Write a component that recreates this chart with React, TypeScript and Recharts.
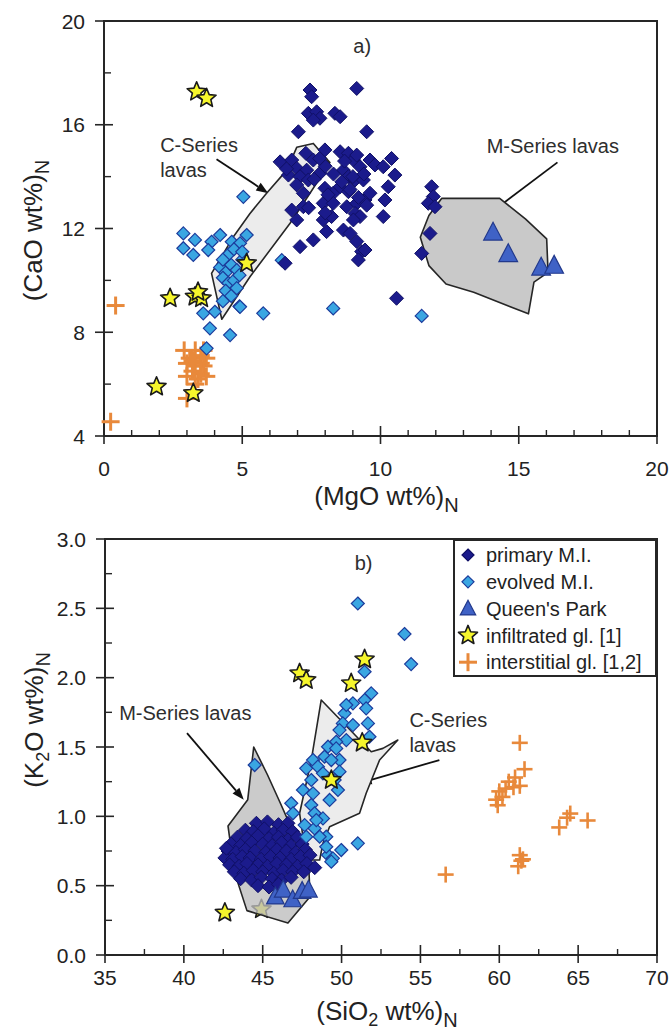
import React from 'react';
import { ScatterChart, Scatter, XAxis, YAxis, ReferenceArea, ReferenceLine, ReferenceDot, Legend } from 'recharts';

type Pt = [number, number];

const FONT = '"Liberation Sans", Arial, Helvetica, sans-serif';
const INK = '#262626';

// ---------- panel a) : (MgO)N vs (CaO)N ----------
const mgoTicks = [0, 1, 2, 3, 4, 5, 6, 7, 8, 9, 10, 11, 12, 13, 14, 15, 16, 17, 18, 19, 20];
const caoTicks = [4, 6, 8, 10, 12, 14, 16, 18, 20];

const primaryA: Pt[] = [
  [7.45, 17.34], [9.14, 17.4], [7.51, 17.08], [7.39, 16.44], [7.69, 16.5], [7.81, 16.25], [8.35, 16.44],
  [8.54, 16.31], [7.57, 16.18], [7.03, 15.73], [9.5, 15.73], [6.37, 14.57], [6.79, 14.64], [6.97, 14.32],
  [7.33, 14.25], [7.57, 14.64], [6.67, 14.06], [7.09, 14.0], [7.39, 13.87], [6.97, 13.68], [7.21, 13.36],
  [7.81, 14.13], [7.99, 15.03], [8.54, 14.96], [8.84, 14.9], [9.02, 14.64], [9.14, 14.83], [9.26, 14.38],
  [8.66, 14.25], [8.84, 14.0], [9.08, 13.87], [9.38, 13.87], [9.62, 14.64], [9.8, 14.45], [10.1, 14.38],
  [10.4, 14.7], [10.52, 14.06], [10.28, 13.61], [10.16, 13.1], [10.1, 12.46], [7.99, 13.55], [8.29, 13.36],
  [8.54, 13.61], [8.84, 13.42], [7.93, 12.97], [8.29, 12.97], [8.78, 12.84], [9.14, 12.97], [9.44, 13.1],
  [9.62, 13.36], [9.08, 12.58], [9.26, 12.46], [9.02, 12.33], [6.79, 12.71], [6.97, 12.33], [7.21, 12.84],
  [7.93, 12.33], [8.23, 12.46], [8.66, 11.94], [8.9, 11.81], [7.57, 11.56], [7.09, 11.3], [8.05, 11.88],
  [9.14, 11.5], [9.32, 11.11], [9.2, 10.79], [9.44, 11.17], [10.58, 9.31], [11.85, 13.61], [11.91, 13.23],
  [11.73, 12.97], [11.97, 12.84], [11.79, 11.81], [11.49, 11.04], [6.55, 10.66], [8.0, 14.4], [8.3, 14.1],
  [8.6, 13.8], [8.9, 13.5], [9.2, 13.2], [9.5, 12.9], [7.6, 13.9], [8.1, 13.3], [9.0, 14.0], [8.7, 14.6],
  [7.8, 14.7], [7.3, 14.9], [6.6, 14.3], [9.4, 14.1], [8.0, 12.6], [7.4, 12.8],
];
const evolvedA: Pt[] = [
  [5.04, 13.22], [2.87, 11.81], [3.29, 11.56], [2.87, 11.24], [3.23, 10.98], [3.89, 11.49], [4.2, 11.75],
  [3.77, 11.17], [4.62, 11.49], [4.92, 11.43], [5.16, 11.75], [4.2, 10.5], [4.4, 10.3], [4.6, 10.6],
  [4.8, 10.4], [4.3, 10.1], [4.5, 9.9], [4.7, 10.0], [4.9, 10.2], [4.4, 9.6], [4.6, 9.4], [4.3, 9.2],
  [4.8, 9.7], [5.0, 10.8], [4.5, 11.0], [4.7, 11.2], [5.0, 11.1], [4.3, 10.8], [4.9, 9.0], [3.59, 8.73],
  [4.01, 8.79], [4.92, 8.98], [5.76, 8.73], [8.29, 8.92], [11.49, 8.63], [3.83, 8.15], [4.56, 7.89],
  [3.71, 7.38], [6.43, 10.78],
];
const queensA: Pt[] = [[14.07, 11.85], [14.62, 11.02], [15.81, 10.5], [16.28, 10.57]];
const infiltratedA: Pt[] = [
  [3.35, 17.27], [3.71, 17.02], [5.16, 10.66], [2.39, 9.31], [3.29, 9.37], [3.53, 9.31], [3.4, 9.55],
  [1.9, 5.9], [3.23, 5.65],
];
const interstitialA: Pt[] = [
  [0.24, 4.55], [0.42, 9.03], [2.9, 7.3], [3.3, 7.3], [3.1, 7.0], [3.5, 7.1], [3.7, 7.0], [3.0, 6.8],
  [3.3, 6.7], [3.6, 6.7], [3.2, 6.5], [3.5, 6.4], [3.0, 6.3], [3.4, 6.2], [3.7, 6.3], [3.3, 6.0],
  [3.5, 6.8], [3.0, 5.45], [3.6, 7.3], [3.2, 6.9],
];
const cSeriesA: Pt[] = [
  [6.97, 15.13], [7.57, 15.28], [8.17, 14.54], [7.45, 13.36], [6.73, 12.2], [5.28, 10.14], [4.26, 8.5],
  [3.89, 10.27], [4.68, 11.68], [5.28, 12.58], [5.88, 13.36], [6.61, 14.25],
];
const mSeriesA: Pt[] = [
  [12.21, 13.16], [14.31, 13.16], [15.24, 12.37], [16.01, 11.6], [16.06, 10.31], [15.55, 9.93],
  [15.35, 8.71], [13.37, 9.54], [12.37, 9.86], [11.75, 10.57], [11.44, 11.66], [11.75, 12.5],
];

// ---------- panel b) : (SiO2)N vs (K2O)N ----------
const sio2Ticks = [35, 37.5, 40, 42.5, 45, 47.5, 50, 52.5, 55, 57.5, 60, 62.5, 65, 67.5, 70];
const k2oTicks = [0, 0.25, 0.5, 0.75, 1, 1.25, 1.5, 1.75, 2, 2.25, 2.5, 2.75, 3];

const primaryB: Pt[] = [
  [44.6, 0.95], [45.3, 0.96], [46.0, 0.94], [46.6, 0.95], [43.9, 0.9], [44.4, 0.89], [45.1, 0.91],
  [45.7, 0.88], [46.3, 0.9], [46.9, 0.89], [43.4, 0.85], [44.0, 0.84], [44.7, 0.86], [45.4, 0.84],
  [46.0, 0.85], [46.6, 0.83], [47.2, 0.85], [43.0, 0.8], [43.6, 0.79], [44.3, 0.81], [45.0, 0.8],
  [45.6, 0.79], [46.2, 0.81], [46.8, 0.79], [47.5, 0.8], [42.8, 0.75], [43.3, 0.74], [43.9, 0.76],
  [44.5, 0.75], [45.2, 0.74], [45.9, 0.76], [46.5, 0.75], [47.1, 0.74], [47.7, 0.76], [42.6, 0.7],
  [43.1, 0.69], [43.7, 0.71], [44.2, 0.7], [44.9, 0.69], [45.5, 0.71], [46.1, 0.7], [46.8, 0.69],
  [47.4, 0.71], [48.0, 0.72], [42.9, 0.65], [43.5, 0.64], [44.0, 0.66], [44.7, 0.65], [45.3, 0.64],
  [45.9, 0.66], [46.5, 0.65], [47.2, 0.64], [47.8, 0.66], [43.2, 0.6], [43.8, 0.59], [44.4, 0.61],
  [45.0, 0.6], [45.7, 0.59], [46.3, 0.61], [46.9, 0.6], [47.6, 0.6], [43.6, 0.55], [44.3, 0.54],
  [44.9, 0.56], [45.6, 0.55], [46.2, 0.54], [46.8, 0.56], [44.7, 0.5], [45.4, 0.49], [46.0, 0.51],
  [48.3, 0.63], [42.7, 0.77],
];
const evolvedB: Pt[] = [
  [51.03, 2.535], [53.99, 2.315], [54.41, 2.098], [51.46, 2.043], [51.88, 1.887], [50.19, 1.743],
  [50.72, 1.815], [50.3, 1.803], [51.46, 1.839], [51.56, 1.779], [51.67, 1.67], [50.08, 1.67],
  [50.72, 1.658], [49.87, 1.622], [50.3, 1.55], [49.66, 1.538], [51.77, 1.574], [49.14, 1.502],
  [49.66, 1.49], [49.87, 1.406], [48.92, 1.43], [49.35, 1.406], [48.19, 1.406], [47.76, 1.346],
  [48.5, 1.358], [48.82, 1.31], [49.87, 1.322], [49.56, 1.262], [48.08, 1.262], [47.55, 1.19],
  [48.19, 1.166], [49.24, 1.118], [49.77, 1.19], [46.81, 1.094], [46.92, 1.022], [48.08, 1.082],
  [48.29, 1.022], [48.82, 0.985], [47.66, 0.937], [48.29, 0.913], [49.03, 0.853], [47.76, 0.853],
  [48.61, 0.853], [49.14, 0.721], [49.45, 0.697], [49.98, 0.757], [51.03, 0.805], [44.49, 1.37],
  [48.4, 0.973], [49.03, 0.781], [49.35, 0.673],
];
const queensB: Pt[] = [[45.8, 0.42], [46.3, 0.47], [46.9, 0.4], [47.5, 0.46], [47.9, 0.47]];
const infiltratedB: Pt[] = [
  [47.34, 2.031], [47.76, 1.983], [50.61, 1.959], [51.46, 2.132], [51.31, 1.531], [49.35, 1.262], [42.6, 0.305],
];
const infiltratedUnderLavaB: Pt[] = [[44.92, 0.33]];
const interstitialB: Pt[] = [
  [61.3, 1.53], [61.6, 1.34], [61.0, 1.28], [60.6, 1.25], [60.4, 1.2], [60.0, 1.18], [59.8, 1.12],
  [59.9, 1.08], [60.9, 1.21], [61.3, 1.22], [60.2, 1.14], [64.5, 1.02], [64.3, 0.99], [63.8, 0.92],
  [65.6, 0.97], [61.3, 0.72], [61.5, 0.69], [61.2, 0.64], [61.4, 0.68], [56.6, 0.58],
];
const cSeriesB: Pt[] = [
  [48.71, 1.839], [51.88, 1.466], [52.62, 1.49], [53.57, 1.55], [52.41, 1.406], [51.56, 1.166],
  [51.14, 1.022], [49.24, 0.925], [48.82, 0.805], [48.61, 0.685], [47.76, 0.685], [47.34, 1.022], [48.08, 1.406],
];
const mSeriesB: Pt[] = [
  [44.43, 1.5], [45.3, 1.3], [46.1, 1.1], [46.8, 0.92], [47.4, 0.8], [47.9, 0.7], [48.0, 0.42],
  [46.6, 0.23], [44.0, 0.32], [43.2, 0.6], [42.8, 0.93], [44.05, 1.12],
];

const legendNames = ['primary M.I.', 'evolved M.I.', "Queen's Park", 'infiltrated gl. [1]', 'interstitial gl. [1,2]'];

const toXY = (pts: Pt[]) => pts.map(([x, y]) => ({ x, y }));

// ---------- marker shapes ----------
const PRIMARY = { fill: '#1b1b8c', stroke: '#101066' };
const EVOLVED = { fill: '#3aa6e2', stroke: '#1c3c9c' };
const QUEENS = { fill: '#3f62c6', stroke: '#22398c' };
const STAR = { fill: '#f6f62c', stroke: '#1a1a1a' };
const CROSS = '#e8893b';

const diamond = (cx: number, cy: number, r: number, c: { fill: string; stroke: string }, sw = 1.2) => (
  <polygon points={`${cx},${cy - r} ${cx + r},${cy} ${cx},${cy + r} ${cx - r},${cy}`} fill={c.fill} stroke={c.stroke} strokeWidth={sw} />
);
const triangle = (cx: number, cy: number, h: number) => (
  <polygon points={`${cx},${cy - h * 0.6} ${cx + h * 0.55},${cy + h * 0.45} ${cx - h * 0.55},${cy + h * 0.45}`} fill={QUEENS.fill} stroke={QUEENS.stroke} strokeWidth={1.2} />
);
const star = (cx: number, cy: number, R: number, fill = STAR.fill) => {
  const pts: string[] = [];
  for (let i = 0; i < 10; i++) {
    const a = (-90 + i * 36) * Math.PI / 180;
    const rad = i % 2 ? R * 0.45 : R;
    pts.push(`${cx + rad * Math.cos(a)},${cy + rad * Math.sin(a)}`);
  }
  return <polygon points={pts.join(' ')} fill={fill} stroke={STAR.stroke} strokeWidth={1.6} strokeLinejoin="round" />;
};
const cross = (cx: number, cy: number, h: number, w = 3) => (
  <g stroke={CROSS} strokeWidth={w}>
    <line x1={cx - h} y1={cy} x2={cx + h} y2={cy} />
    <line x1={cx} y1={cy - h} x2={cx} y2={cy + h} />
  </g>
);

// polygon outline drawn through the Scatter line (library-scaled points)
const lavaField = (fill: string, opacity = 1) => (p: any) => {
  const pts = (p.points || []) as { x: number; y: number }[];
  if (!pts.length) return <g />;
  const d = pts.map((q, i) => `${i ? 'L' : 'M'}${q.x},${q.y}`).join(' ') + ' Z';
  return <path d={d} fill={fill} fillOpacity={opacity} stroke={INK} strokeWidth={1.6} strokeLinejoin="round" />;
};

const arrowShape = (p: any) => {
  const { x1, y1, x2, y2 } = p;
  const ang = Math.atan2(y2 - y1, x2 - x1);
  const L = 12, W = 4.5;
  const bx = x2 - L * Math.cos(ang), by = y2 - L * Math.sin(ang);
  const nx = -Math.sin(ang), ny = Math.cos(ang);
  return (
    <g>
      <line x1={x1} y1={y1} x2={bx} y2={by} stroke="#111" strokeWidth={1.8} />
      <polygon points={`${x2},${y2} ${bx + nx * W},${by + ny * W} ${bx - nx * W},${by - ny * W}`} fill="#111" />
    </g>
  );
};

const note = (text: string, anchor: 'start' | 'middle' = 'start') => (p: any) => (
  <text x={p.cx} y={p.cy} textAnchor={anchor} fontFamily={FONT} fontSize={20} fill="#2e2e2e">{text}</text>
);

// ---------- ticks ----------
const isMult = (v: number, step: number) => Math.abs(v / step - Math.round(v / step)) < 1e-6;

const xTick = (step: number, labelDy: number, fmt: (v: number) => string) => (p: any) => {
  const { x, y, payload } = p;
  const v = payload.value;
  const major = isMult(v, step);
  return (
    <g>
      {major
        ? <line x1={x} x2={x} y1={y - 10} y2={y + 8} stroke={INK} strokeWidth={1.6} />
        : <line x1={x} x2={x} y1={y} y2={y - 6} stroke={INK} strokeWidth={1.4} />}
      {major && (
        <text x={x} y={y + labelDy} textAnchor="middle" fontFamily={FONT} fontSize={21} fill="#222">{fmt(v)}</text>
      )}
    </g>
  );
};

const yTick = (step: number, fmt: (v: number) => string) => (p: any) => {
  const { x, y, payload } = p;
  const v = payload.value;
  const major = isMult(v, step);
  return (
    <g>
      {major
        ? <line x1={x - 9} x2={x + 9} y1={y} y2={y} stroke={INK} strokeWidth={1.6} />
        : <line x1={x} x2={x + 7} y1={y} y2={y} stroke={INK} strokeWidth={1.4} />}
      {major && (
        <text x={x - 19} y={y} dy="0.36em" textAnchor="end" fontFamily={FONT} fontSize={21} fill="#222">{fmt(v)}</text>
      )}
    </g>
  );
};

const xTitle = (main: React.ReactNode, dy: number) => (p: any) => {
  const vb = p.viewBox || {};
  return (
    <text x={vb.x + vb.width / 2 + 6} y={vb.y + dy} textAnchor="middle" fontFamily={FONT} fontSize={26} fill="#222">{main}</text>
  );
};
const yTitle = (main: React.ReactNode, shift: number) => (p: any) => {
  const vb = p.viewBox || {};
  const cx = vb.x + vb.width - 62;
  const cy = vb.y + vb.height / 2 + shift;
  return (
    <text x={cx} y={cy} transform={`rotate(-90 ${cx} ${cy})`} textAnchor="middle" fontFamily={FONT} fontSize={26} fill="#222">{main}</text>
  );
};

const LegendBox = () => {
  const icons = [
    (cx: number, cy: number) => diamond(cx, cy, 6, PRIMARY),
    (cx: number, cy: number) => diamond(cx, cy, 6, EVOLVED),
    (cx: number, cy: number) => triangle(cx, cy, 14),
    (cx: number, cy: number) => star(cx, cy, 10),
    (cx: number, cy: number) => cross(cx, cy, 9),
  ];
  return (
    <svg width={204} height={138} style={{ display: 'block' }}>
      <rect x={1} y={1} width={202} height={136} fill="#fff" stroke={INK} strokeWidth={2} />
      {legendNames.map((n, i) => {
        const cy = 16 + i * 26.8;
        return (
          <g key={n}>
            {icons[i](15, cy)}
            <text x={33} y={cy} dy="0.36em" fontFamily={FONT} fontSize={20} fill="#222">{n}</text>
          </g>
        );
      })}
    </svg>
  );
};

const none = () => <g />;

const PanelA = () => (
  <ScatterChart width={672} height={515} margin={{ top: 21, right: 15, bottom: 19, left: 24 }}>
    <XAxis type="number" dataKey="x" domain={[0, 20]} ticks={mgoTicks} interval={0} tickSize={0} tickMargin={0}
      tickLine={false} axisLine={{ stroke: INK, strokeWidth: 2 }} height={60}
      tick={xTick(5, 40, (v) => String(v))}
      label={{ content: xTitle(<>(MgO wt%)<tspan dy={7} fontSize={20}>N</tspan></>, 69) }} />
    <YAxis type="number" dataKey="y" domain={[4, 20]} ticks={caoTicks} interval={0} tickSize={0} tickMargin={0}
      tickLine={false} axisLine={{ stroke: INK, strokeWidth: 2 }} width={80}
      tick={yTick(4, (v) => String(v))}
      label={{ content: yTitle(<>(CaO wt%)<tspan dy={7} fontSize={20}>N</tspan></>, 2) }} />
    <ReferenceArea x1={0} x2={20} y1={4} y2={20} fill="none" stroke={INK} strokeWidth={2} ifOverflow="visible" />
    <Scatter data={toXY(cSeriesA)} line={lavaField('#ececec')} lineType="joint" shape={none} isAnimationActive={false} legendType="none" />
    <Scatter data={toXY(mSeriesA)} line={lavaField('#c9c9c9')} lineType="joint" shape={none} isAnimationActive={false} legendType="none" />
    <Scatter data={toXY(interstitialA)} shape={(p: any) => cross(p.cx, p.cy, 9)} isAnimationActive={false} />
    <Scatter data={toXY(evolvedA)} shape={(p: any) => diamond(p.cx, p.cy, 6.5, EVOLVED)} isAnimationActive={false} />
    <Scatter data={toXY(primaryA)} shape={(p: any) => diamond(p.cx, p.cy, 7, PRIMARY, 1)} isAnimationActive={false} />
    <Scatter data={toXY(queensA)} shape={(p: any) => triangle(p.cx, p.cy, 17)} isAnimationActive={false} />
    <Scatter data={toXY(infiltratedA)} shape={(p: any) => star(p.cx, p.cy, 10)} isAnimationActive={false} />
    <ReferenceLine segment={[{ x: 4.07, y: 14.67 }, { x: 5.94, y: 13.36 }]} shape={arrowShape} />
    <ReferenceLine segment={[{ x: 16.4, y: 14.55 }, { x: 14.0, y: 12.62 }]} shape={arrowShape} />
    <ReferenceDot x={2.03} y={14.96} r={0} shape={note('C-Series')} />
    <ReferenceDot x={2.03} y={14.0} r={0} shape={note('lavas')} />
    <ReferenceDot x={13.84} y={14.93} r={0} shape={note('M-Series lavas')} />
    <ReferenceDot x={9.34} y={18.75} r={0} shape={note('a)', 'middle')} />
  </ScatterChart>
);

const PanelB = () => (
  <ScatterChart width={672} height={515} margin={{ top: 24, right: 15, bottom: 15, left: 25 }}>
    <XAxis type="number" dataKey="x" domain={[35, 70]} ticks={sio2Ticks} interval={0} tickSize={0} tickMargin={0}
      tickLine={false} axisLine={{ stroke: INK, strokeWidth: 2 }} height={60}
      tick={xTick(5, 30, (v) => String(v))}
      label={{ content: xTitle(<>(SiO<tspan dy={6} fontSize={18}>2</tspan><tspan dy={-6}> wt%)</tspan><tspan dy={7} fontSize={20}>N</tspan></>, 65) }} />
    <YAxis type="number" dataKey="y" domain={[0, 3]} ticks={k2oTicks} interval={0} tickSize={0} tickMargin={0}
      tickLine={false} axisLine={{ stroke: INK, strokeWidth: 2 }} width={80}
      tick={yTick(0.5, (v) => v.toFixed(1))}
      label={{ content: yTitle(<>(K<tspan dy={6} fontSize={18}>2</tspan><tspan dy={-6}>O wt%)</tspan><tspan dy={7} fontSize={20}>N</tspan></>, -27) }} />
    <ReferenceArea x1={35} x2={70} y1={0} y2={3} fill="none" stroke={INK} strokeWidth={2} ifOverflow="visible" />
    <Scatter data={toXY(cSeriesB)} line={lavaField('#ececec')} lineType="joint" shape={none} isAnimationActive={false} legendType="none" />
    <Scatter data={toXY(infiltratedUnderLavaB)} shape={(p: any) => star(p.cx, p.cy, 10)} isAnimationActive={false} legendType="none" />
    <Scatter data={toXY(mSeriesB)} line={lavaField('#bdbdbd', 0.78)} lineType="joint" shape={none} isAnimationActive={false} legendType="none" />
    <Scatter data={toXY(interstitialB)} shape={(p: any) => cross(p.cx, p.cy, 8, 2.6)} isAnimationActive={false} />
    <Scatter data={toXY(primaryB)} shape={(p: any) => diamond(p.cx, p.cy, 7, PRIMARY, 1)} isAnimationActive={false} />
    <Scatter data={toXY(evolvedB)} shape={(p: any) => diamond(p.cx, p.cy, 6.5, EVOLVED)} isAnimationActive={false} />
    <Scatter data={toXY(queensB)} shape={(p: any) => triangle(p.cx, p.cy, 16)} isAnimationActive={false} />
    <Scatter data={toXY(infiltratedB)} shape={(p: any) => star(p.cx, p.cy, 10)} isAnimationActive={false} />
    <ReferenceLine segment={[{ x: 40.2, y: 1.6 }, { x: 43.8, y: 1.12 }]} shape={arrowShape} />
    <ReferenceLine segment={[{ x: 56.2, y: 1.406 }, { x: 51.14, y: 1.238 }]} shape={arrowShape} />
    <ReferenceDot x={35.9} y={1.695} r={0} shape={note('M-Series lavas')} />
    <ReferenceDot x={54.3} y={1.646} r={0} shape={note('C-Series')} />
    <ReferenceDot x={54.3} y={1.466} r={0} shape={note('lavas')} />
    <ReferenceDot x={51.4} y={2.78} r={0} shape={note('b)', 'middle')} />
    <Legend layout="vertical" align="center" verticalAlign="middle" content={() => <LegendBox />}
      wrapperStyle={{ position: 'absolute', left: 453, top: 24, width: 204, height: 138 }} />
  </ScatterChart>
);

export default function App() {
  return (
    <div style={{ position: 'absolute', left: 0, top: 0, width: 672, height: 1030, background: '#fff' }}>
      <div style={{ position: 'absolute', left: 0, top: 0 }}><PanelA /></div>
      <div style={{ position: 'absolute', left: 0, top: 515 }}><PanelB /></div>
    </div>
  );
}
